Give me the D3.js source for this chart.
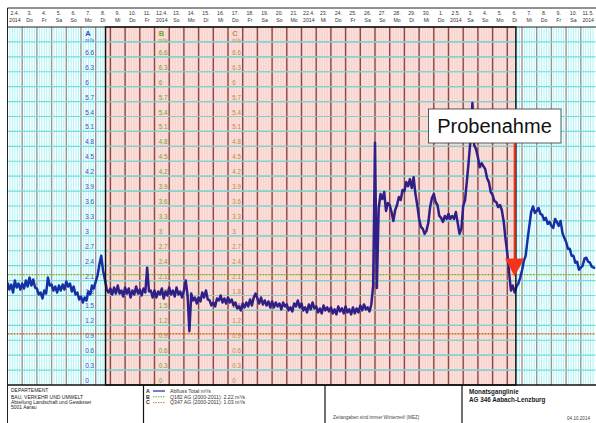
<!DOCTYPE html>
<html>
<head>
<meta charset="utf-8">
<script src="https://cdn.jsdelivr.net/npm/d3@7/dist/d3.min.js"></script>
<style>
  html, body { margin: 0; padding: 0; background: #fff; }
  svg { display: block; font-family: "Liberation Sans", Arial, sans-serif; }
</style>
</head>
<body>
<svg id="chart" width="596" height="423"></svg>
<script>
// Abfluss Total (m³/s), 3-hourly readings, one row per day from 2.4.2014
const flowRows = [
  [2.06, 1.92, 2.02, 1.86, 2.10, 1.96, 2.04, 1.92],
  [2.04, 1.94, 2.10, 1.98, 2.16, 2.00, 2.12, 1.96],
  [1.94, 1.82, 1.86, 1.74, 1.90, 1.84, 2.16, 2.00],
  [2.02, 1.90, 1.98, 1.86, 2.00, 1.90, 2.02, 1.92],
  [2.08, 1.98, 2.04, 1.88, 1.98, 1.82, 1.86, 1.72],
  [1.78, 1.66, 1.76, 1.70, 1.88, 1.82, 2.00, 1.94],
  [2.08, 2.20, 2.42, 2.60, 2.30, 2.12, 1.92, 1.86],
  [1.94, 1.82, 1.96, 1.84, 2.00, 1.84, 1.90, 1.78],
  [1.96, 1.84, 1.94, 1.76, 1.90, 1.82, 1.98, 1.84],
  [1.92, 1.80, 1.94, 1.86, 2.36, 1.88, 1.90, 1.76],
  [1.90, 1.76, 1.88, 1.82, 1.94, 1.74, 1.88, 1.80],
  [1.96, 1.82, 1.90, 1.78, 1.96, 1.82, 1.88, 1.76],
  [1.90, 2.10, 1.80, 1.08, 1.84, 1.70, 1.76, 1.64],
  [1.76, 1.68, 1.86, 1.76, 1.90, 1.72, 1.70, 1.60],
  [1.66, 1.58, 1.74, 1.70, 1.80, 1.66, 1.74, 1.64],
  [1.76, 1.66, 1.72, 1.60, 1.66, 1.54, 1.58, 1.50],
  [1.64, 1.56, 1.66, 1.58, 1.72, 1.60, 1.76, 1.84],
  [1.74, 1.64, 1.76, 1.62, 1.70, 1.60, 1.68, 1.56],
  [1.68, 1.56, 1.66, 1.58, 1.64, 1.52, 1.66, 1.58],
  [1.62, 1.50, 1.56, 1.48, 1.64, 1.58, 1.70, 1.56],
  [1.64, 1.50, 1.56, 1.46, 1.62, 1.52, 1.66, 1.54],
  [1.58, 1.46, 1.54, 1.44, 1.60, 1.50, 1.56, 1.48],
  [1.56, 1.44, 1.52, 1.42, 1.58, 1.48, 1.54, 1.44],
  [1.58, 1.46, 1.52, 1.42, 1.56, 1.44, 1.54, 1.46],
  [1.60, 1.50, 1.62, 1.52, 1.56, 1.48, 1.62, 2.00],
  [4.87, 1.95, 3.55, 3.84, 3.74, 3.88, 3.50, 3.66],
  [3.62, 3.48, 3.30, 3.52, 3.62, 3.78, 3.72, 3.92],
  [3.90, 4.08, 4.00, 4.14, 3.96, 4.18, 3.84, 3.62],
  [3.34, 3.18, 3.14, 3.04, 3.10, 3.26, 3.58, 3.76],
  [3.84, 3.68, 3.62, 3.40, 3.36, 3.28, 3.40, 3.34],
  [3.44, 3.34, 3.40, 3.34, 3.48, 3.26, 3.04, 3.14],
  [3.60, 3.72, 4.10, 4.50, 4.95, 5.67, 4.82, 4.74],
  [4.58, 4.38, 4.46, 4.40, 4.34, 4.16, 4.08, 3.88],
  [3.82, 3.70, 3.68, 3.58, 3.62, 3.52, 3.30, 2.95],
  [2.65, 2.25, 1.90, 2.00, 1.86, 1.98, 2.04, 2.16],
  [2.30, 2.50, 2.60, 2.92, 3.20, 3.48, 3.59, 3.46],
  [3.50, 3.56, 3.44, 3.42, 3.32, 3.36, 3.24, 3.28],
  [3.20, 3.16, 3.34, 3.28, 3.20, 3.30, 3.06, 2.96],
  [2.88, 2.74, 2.74, 2.60, 2.60, 2.46, 2.48, 2.32],
  [2.36, 2.40, 2.54, 2.56, 2.48, 2.46, 2.38, 2.36],
  [2.35]
];

// Header: day number and weekday (or year) per column
const dayNums = ["2.4.","3.","4.","5.","6.","7.","8.","9.","10.","11.",
  "12.4.","13.","14.","15.","16.","17.","18.","19.","20.","21.",
  "22.4.","23.","24.","25.","26.","27.","28.","29.","30.","1.",
  "2.5.","3.","4.","5.","6.","7.","8.","9.","10.","11.5."];
const dayNames = ["2014","Do","Fr","Sa","So","Mo","Di","Mi","Do","Fr",
  "2014","So","Mo","Di","Mi","Do","Fr","Sa","So","Mo",
  "2014","Mi","Do","Fr","Sa","So","Mo","Di","Mi","Do",
  "2014","Sa","So","Mo","Di","Mi","Do","Fr","Sa","2014"];

// Value scale labels (same for A, B, C)
const yTicks = [0,0.3,0.6,0.9,1.2,1.5,1.8,2.1,2.4,2.7,3,3.3,3.6,3.9,4.2,4.5,4.8,5.1,5.4,5.7,6,6.3,6.6];
const scaleNames = ["A", "B", "C"];

// Reference discharges
const q182 = 2.22;
const q347 = 1.03;

// Highlighted period and sampling time
const periodStart = new Date(Date.UTC(2014, 3, 8, 16));
const periodEnd = new Date(Date.UTC(2014, 4, 6, 14));
const sampleTime = new Date(Date.UTC(2014, 4, 6, 12));
const sampleArrowTip = 2.18;

const footerLeft = ["DEPARTEMENT", "BAU, VERKEHR UND UMWELT", "Abteilung Landschaft und Gewässer", "5001 Aarau"];
const legendItems = [
  { key: "A", text: "Abfluss Total m³/s" },
  { key: "B", text: "Q182 AG (2000-2011): 2.22 m³/s" },
  { key: "C", text: "Q347 AG (2000-2011): 1.03 m³/s" }
];

const t0 = new Date(Date.UTC(2014, 3, 2));
const t1 = new Date(Date.UTC(2014, 4, 12));
const HOUR = 3600 * 1000;

const flow = flowRows.flat().map((v, i) => ({ t: new Date(t0.getTime() + i * 3 * HOUR), v }));

const svg = d3.select("#chart");
const plotTop = 27, plotBottom = 385, plotLeft = 7.5, plotRight = 595.5;

const x = d3.scaleUtc().domain([t0, t1]).range([plotLeft, plotRight]);
const y = d3.scaleLinear().domain([0, 7.2]).range([plotBottom, plotTop]);

const xp0 = x(periodStart), xp1 = x(periodEnd);
const plotH = plotBottom - plotTop;

// backgrounds
svg.append("rect").attr("x", plotLeft).attr("y", plotTop).attr("width", plotRight - plotLeft).attr("height", plotH).attr("fill", "#ffffff");
svg.append("rect").attr("x", xp0).attr("y", plotTop).attr("width", xp1 - xp0).attr("height", plotH).attr("fill", "#f8d2cd");

// 4-hour grid lines
const fourHours = d3.utcHour.every(4).range(t0, t1).filter(d => d.getUTCHours() !== 0);
svg.append("g").selectAll("line").data(fourHours).join("line")
  .attr("x1", d => x(d)).attr("x2", d => x(d)).attr("y1", plotTop).attr("y2", plotBottom)
  .attr("stroke", d => (d > periodStart && d < periodEnd) ? "#fbe4e1" : "#a8f4f6")
  .attr("stroke-width", 1);

// day lines
const days = d3.utcDay.range(d3.utcDay.offset(t0, 1), t1);
svg.append("g").selectAll("line").data(days).join("line")
  .attr("x1", d => x(d)).attr("x2", d => x(d)).attr("y1", plotTop).attr("y2", plotBottom)
  .attr("stroke", d => (d > periodStart && d < periodEnd) ? "#8d4848" : "#959595")
  .attr("stroke-width", 1.4);

// horizontal value grid
const hLines = d3.range(1, 24).map(i => i * 0.3);
svg.append("g").selectAll("line").data(hLines).join("line")
  .attr("x1", plotLeft).attr("x2", plotRight).attr("y1", d => y(d)).attr("y2", d => y(d))
  .attr("stroke", "#72dcdc").attr("stroke-width", 1.2);
svg.append("g").selectAll("line").data(hLines).join("line")
  .attr("x1", xp0).attr("x2", xp1).attr("y1", d => y(d)).attr("y2", d => y(d))
  .attr("stroke", "#86cfc6").attr("stroke-width", 1.2);

// scale labels A, B, C
const scaleCols = [
  { x: x(new Date(Date.UTC(2014, 3, 7, 12))) - 3, color: "#3a48c4" },
  { x: x(new Date(Date.UTC(2014, 3, 12, 12))) - 3, color: "#76a21e" },
  { x: x(new Date(Date.UTC(2014, 3, 17, 12))) - 3, color: "#bf8748" }
];
scaleCols.forEach((c, i) => {
  const g = svg.append("g").attr("fill", c.color);
  g.append("text").attr("x", c.x).attr("y", 36).attr("font-size", 7.5).attr("font-weight", "bold").text(scaleNames[i]);
  g.append("text").attr("x", c.x).attr("y", 42).attr("font-size", 4.5).text("m³/s");
  g.selectAll("text.v").data(yTicks).join("text").attr("class", "v")
    .attr("x", c.x).attr("y", d => y(d) - 2).attr("font-size", 6.3)
    .text(d => String(d));
});

// reference lines
svg.append("line").attr("x1", plotLeft).attr("x2", plotRight).attr("y1", y(q182)).attr("y2", y(q182))
  .attr("stroke", "#7cae2c").attr("stroke-width", 1.3).attr("stroke-dasharray", "2,1");
svg.append("line").attr("x1", plotLeft).attr("x2", plotRight).attr("y1", y(q347)).attr("y2", y(q347))
  .attr("stroke", "#c25a08").attr("stroke-width", 1.3).attr("stroke-dasharray", "2,1");

// discharge line, coloured differently inside the highlighted period
const defs = svg.append("defs");
defs.append("clipPath").attr("id", "inside").append("rect")
  .attr("x", xp0).attr("y", plotTop).attr("width", xp1 - xp0).attr("height", plotH);
const outside = defs.append("clipPath").attr("id", "outside");
outside.append("rect").attr("x", plotLeft).attr("y", plotTop).attr("width", xp0 - plotLeft).attr("height", plotH);
outside.append("rect").attr("x", xp1).attr("y", plotTop).attr("width", plotRight - xp1).attr("height", plotH);

const line = d3.line().x(d => x(d.t)).y(d => y(d.v));
svg.append("path").datum(flow).attr("d", line).attr("fill", "none")
  .attr("stroke", "#1530a4").attr("stroke-width", 2.5).attr("stroke-linejoin", "round")
  .attr("clip-path", "url(#outside)");
svg.append("path").datum(flow).attr("d", line).attr("fill", "none")
  .attr("stroke", "#2f1f86").attr("stroke-width", 2.5).attr("stroke-linejoin", "round")
  .attr("clip-path", "url(#inside)");

// period border
svg.append("rect").attr("x", xp0).attr("y", plotTop).attr("width", xp1 - xp0).attr("height", plotH)
  .attr("fill", "none").attr("stroke", "#111").attr("stroke-width", 1.5);

// header
svg.append("line").attr("x1", plotLeft).attr("x2", 596).attr("y1", 8).attr("y2", 8).attr("stroke", "#222").attr("stroke-width", 1);
svg.append("line").attr("x1", plotLeft).attr("x2", 596).attr("y1", plotTop).attr("y2", plotTop).attr("stroke", "#222").attr("stroke-width", 1);
const dayCenters = d3.utcDay.range(t0, t1).map(d => x(d) + (x(d3.utcDay.offset(d, 1)) - x(d)) / 2);
const hdr = svg.append("g").attr("fill", "#333").attr("font-size", 5.2).attr("text-anchor", "middle");
hdr.selectAll("text.n").data(dayNums).join("text").attr("class", "n")
  .attr("x", (d, i) => dayCenters[i]).attr("y", 15).text(d => d);
hdr.selectAll("text.w").data(dayNames).join("text").attr("class", "w")
  .attr("x", (d, i) => dayCenters[i]).attr("y", 21.5).text(d => d);

// frame lines
svg.append("line").attr("x1", plotLeft).attr("x2", plotLeft).attr("y1", 8).attr("y2", 423).attr("stroke", "#222").attr("stroke-width", 1);
svg.append("line").attr("x1", plotLeft).attr("x2", 596).attr("y1", plotBottom).attr("y2", plotBottom).attr("stroke", "#111").attr("stroke-width", 1.5);

// footer
[143.5, 325, 462].forEach(fx => {
  svg.append("line").attr("x1", fx).attr("x2", fx).attr("y1", plotBottom).attr("y2", 423).attr("stroke", "#111").attr("stroke-width", 1.2);
});
const fl = svg.append("g").attr("fill", "#222").attr("font-size", 5);
fl.selectAll("text").data(footerLeft).join("text")
  .attr("x", 11).attr("y", (d, i) => [392, 398.5, 403.5, 408.5][i]).text(d => d);

const legendColors = ["#1a2ab0", "#4cb41e", "#c08040"];
const lg = svg.append("g").attr("font-size", 5.2);
legendItems.forEach((it, i) => {
  const ly = 391 + i * 5.8;
  lg.append("text").attr("x", 146).attr("y", ly + 1.8).attr("font-weight", "bold").attr("fill", "#222").text(it.key);
  lg.append("line").attr("x1", 153).attr("x2", 165).attr("y1", ly).attr("y2", ly)
    .attr("stroke", legendColors[i]).attr("stroke-width", i === 0 ? 1.2 : 1)
    .attr("stroke-dasharray", i === 0 ? null : "1.5,1");
  lg.append("text").attr("x", 170).attr("y", ly + 1.8).attr("fill", "#333").text(it.text);
});

svg.append("text").attr("x", 333).attr("y", 419).attr("font-size", 4.6).attr("fill", "#444")
  .text("Zeitangaben sind immer Winterzeit! (MEZ)");
svg.append("text").attr("x", 469).attr("y", 394).attr("font-size", 6.3).attr("font-weight", "bold").attr("fill", "#222")
  .text("Monatsganglinie");
svg.append("text").attr("x", 469).attr("y", 401.5).attr("font-size", 6.3).attr("font-weight", "bold").attr("fill", "#222")
  .text("AG 346 Aabach-Lenzburg");
svg.append("text").attr("x", 590).attr("y", 420).attr("font-size", 4.6).attr("fill", "#444").attr("text-anchor", "end")
  .text("04.10.2014");

// sampling annotation
const sx = x(sampleTime);
const tipY = y(sampleArrowTip);
svg.append("rect").attr("x", 428.5).attr("y", 109).attr("width", 132.5).attr("height", 34)
  .attr("fill", "#fff").attr("stroke", "#333").attr("stroke-width", 0.8);
svg.append("text").attr("x", 494.5).attr("y", 133).attr("text-anchor", "middle")
  .attr("font-size", 20).attr("fill", "#111").text("Probenahme");
svg.append("line").attr("x1", sx).attr("x2", sx).attr("y1", 143).attr("y2", tipY - 14)
  .attr("stroke", "#f5331a").attr("stroke-width", 2);
svg.append("path")
  .attr("d", `M${sx - 9.5},${tipY - 18} L${sx + 9.5},${tipY - 18} L${sx},${tipY} Z`)
  .attr("fill", "#f5331a");
</script>
</body>
</html>
